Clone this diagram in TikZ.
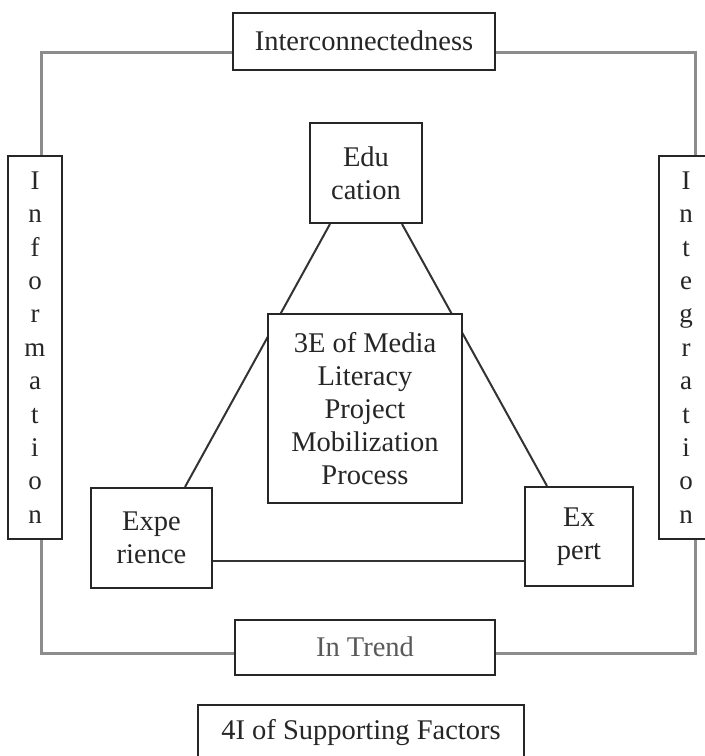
\documentclass[tikz,border=0pt]{standalone}
\usepackage{fontspec}
\setmainfont{Liberation Serif}
\pgfdeclarelayer{background}
\pgfsetlayers{background,main}
\begin{document}
\begin{tikzpicture}[x=1pt,y=-1pt,
  box/.style={draw=black!85,line width=2pt,fill=white,inner sep=0pt,align=center,
    font=\fontsize{28.5}{33}\selectfont,text=black!85},
  vbox/.style={box,font=\fontsize{27}{33.4}\selectfont},
  link/.style={draw=black!80,line width=2pt},
  frame/.style={draw=black!45,line width=3pt}]
\useasboundingbox (0,0) rectangle (705,756);
% nodes
\node[box,minimum width=262pt,minimum height=57pt] (inter) at (364,41) {Interconnectedness};
\node[box,minimum width=260pt,minimum height=55pt,text=black!65] (trend) at (365,647) {In Trend};
\node[vbox,minimum width=54pt,minimum height=383pt] (info) at (35,347.5) {I\\n\\f\\o\\r\\m\\a\\t\\i\\o\\n};
\node[vbox,minimum width=54pt,minimum height=383pt] (integ) at (686,347.5) {I\\n\\t\\e\\g\\r\\a\\t\\i\\o\\n};
\node[box,minimum width=326pt,minimum height=56pt] (factors) at (361,733) {4I of Supporting Factors};
\node[box,minimum width=112pt,minimum height=100pt] (edu) at (366,173) {Edu\\cation};
\node[box,minimum width=194pt,minimum height=189pt] (core) at (365,408.5) {3E of Media\\Literacy\\Project\\Mobilization\\Process};
\node[box,minimum width=121pt,minimum height=100pt] (exper) at (151.5,538) {Expe\\rience};
\node[box,minimum width=108pt,minimum height=99pt] (expert) at (579,536.5) {Ex\\pert};
% outer frame
\coordinate (tl) at (41,52);
\coordinate (tr) at (695,52);
\coordinate (bl) at (41,653);
\coordinate (br) at (695,653);
\begin{pgfonlayer}{background}
\draw[frame] (inter.west |- tl) -- (tl) -- (tl |- info.north);
\draw[frame] (inter.east |- tr) -- (tr) -- (tr |- integ.north);
\draw[frame] (bl |- info.south) -- (bl) -- (trend.west |- bl);
\draw[frame] (br |- integ.south) -- (br) -- (trend.east |- br);
% triangle links
\draw[link] ([xshift=-36pt]edu.south) -- ([xshift=33.5pt]exper.north);
\draw[link] ([xshift=36pt]edu.south) -- ([xshift=-32pt]expert.north);
\draw[link] ([yshift=-23pt]exper.east) -- ([yshift=-24.5pt]expert.west);
\end{pgfonlayer}
\end{tikzpicture}
\end{document}
